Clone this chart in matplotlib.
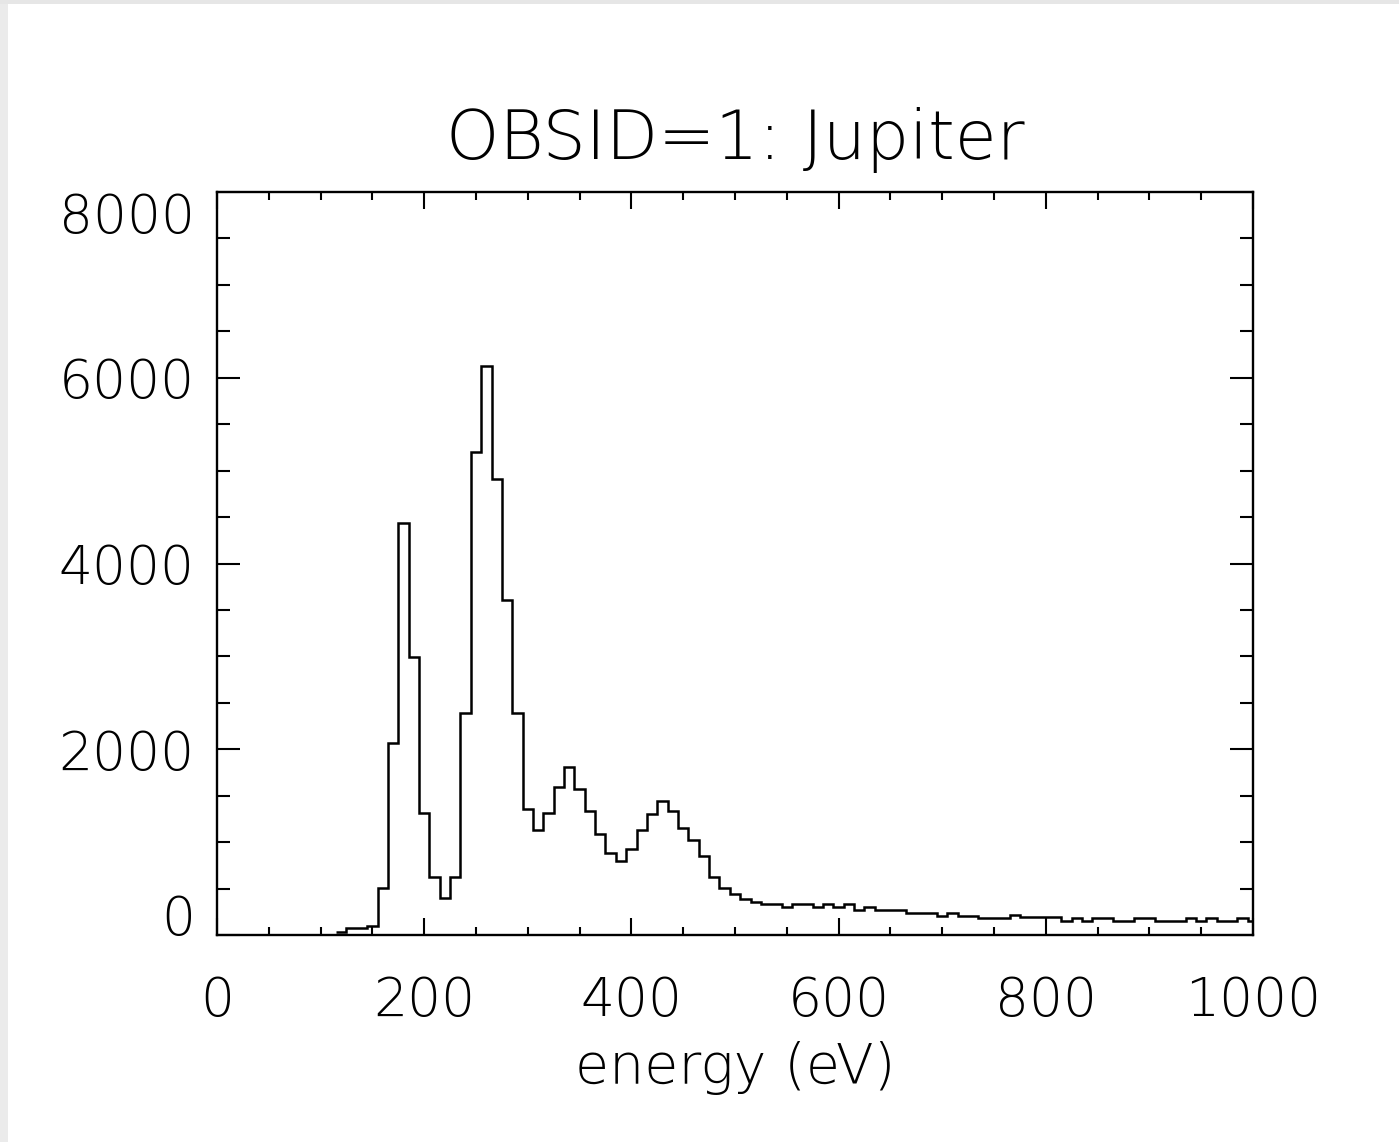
import matplotlib
matplotlib.use("Agg")
import matplotlib.pyplot as plt
from matplotlib import font_manager
from matplotlib.patches import Rectangle
from matplotlib.ticker import MultipleLocator
import numpy as np

# Energy bin centres (eV) and counts
energy = [120, 130, 140, 150, 160, 170, 180, 190, 200, 210, 220, 230, 240, 250,
          260, 270, 280, 290, 300, 310, 320, 330, 340, 350, 360, 370, 380, 390,
          400, 410, 420, 430, 440, 450, 460, 470, 480, 490, 500, 510, 520, 530,
          540, 550, 560, 570, 580, 590, 600, 610, 620, 630, 640, 650, 660, 670,
          680, 690, 700, 710, 720, 730, 740, 750, 760, 770, 780, 790, 800, 810,
          820, 830, 840, 850, 860, 870, 880, 890, 900, 910, 920, 930, 940, 950,
          960, 970, 980, 990, 1000]
counts = [30, 70, 72, 100, 510, 2070, 4440, 2990, 1310, 620, 395, 628, 2395, 5205,
          6130, 4910, 3605, 2395, 1360, 1130, 1310, 1597, 1805, 1572, 1339, 1087, 886, 800,
          923, 1130, 1303, 1446, 1339, 1152, 1023, 854, 628, 505, 445, 386, 353, 330,
          330, 301, 330, 330, 301, 337, 301, 337, 265, 301, 265, 265, 265, 240,
          240, 240, 205, 240, 205, 205, 182, 185, 187, 215, 190, 190, 190, 190,
          151, 180, 151, 183, 183, 151, 151, 180, 180, 151, 151, 151, 180, 151,
          180, 151, 151, 180, 151]
bin_width = 10
xticks = [0, 200, 400, 600, 800, 1000]
yticks = [0, 2000, 4000, 6000, 8000]
title = "OBSID=1: Jupiter"
xlabel = "energy (eV)"

# Prefer a thin, wide sans (DejaVu Sans ExtraLight) if installed
has_dv_light = any(f.name == 'DejaVu Sans' and
                   (f.weight in (200, 300, 'light', 'extra light') or
                    'ExtraLight' in f.fname)
                   for f in font_manager.fontManager.ttflist)
if has_dv_light:
    FONT = ['DejaVu Sans']
    WEIGHT = 200
    TICK_FS, TITLE_FS, LABEL_FS = 38.5, 49, 40
else:
    FONT = ['Roboto', 'DejaVu Sans']
    WEIGHT = 'light'
    TICK_FS, TITLE_FS, LABEL_FS = 40, 50, 41
plt.rcParams['font.family'] = FONT

W, H = 1399, 1142
fig = plt.figure(figsize=(W / 100, H / 100), dpi=100)
fig.patch.set_facecolor('white')
# light grey screenshot border (left and top)
fig.add_artist(Rectangle((0, 0), 8 / W, 1, transform=fig.transFigure,
                         facecolor='#ebebeb', edgecolor='none'))
fig.add_artist(Rectangle((0, 1 - 4 / H), 1, 4 / H, transform=fig.transFigure,
                         facecolor='#e6e6e6', edgecolor='none'))

left, right, top, bottom = 217, 1253, 192, 935
ax = fig.add_axes([left / W, 1 - bottom / H, (right - left) / W, (bottom - top) / H])

centers = np.array(energy, dtype=float)
edges = np.concatenate([centers - bin_width / 2, [centers[-1] + bin_width / 2]])
ax.stairs(counts, edges, baseline=None, color='black', linewidth=1.8)

ax.set_xlim(0, 1000)
ax.set_ylim(0, 8000)
for s in ax.spines.values():
    s.set_linewidth(1.7)

ax.xaxis.set_minor_locator(MultipleLocator(50))
ax.yaxis.set_minor_locator(MultipleLocator(500))
ax.set_xticks(xticks)
ax.set_yticks(yticks)
ax.set_xticklabels([str(v) for v in xticks])
ax.set_yticklabels([str(v) for v in yticks])

ax.tick_params(axis='x', which='major', direction='in', length=12.2, width=1.5,
               top=True, bottom=True, labelsize=TICK_FS, pad=29)
ax.tick_params(axis='x', which='minor', direction='in', length=5.8, width=1.5,
               top=True, bottom=True)
ax.tick_params(axis='y', which='major', direction='in', length=16.6, width=1.5,
               left=True, right=True, labelsize=TICK_FS, pad=16)
ax.tick_params(axis='y', which='minor', direction='in', length=9.4, width=1.5,
               left=True, right=True)

for lab in ax.get_xticklabels() + ax.get_yticklabels():
    lab.set_fontweight(WEIGHT)
ylabs = ax.get_yticklabels()
ylabs[0].set_va('baseline')
ylabs[-1].set_va('top')

cx = (left + right) / 2 / W
fig.text(cx, 1 - 140 / H, title, ha='center', va='center', fontsize=TITLE_FS,
         fontweight=WEIGHT)
fig.text(cx, 1 - 1068 / H, xlabel, ha='center', va='center', fontsize=LABEL_FS,
         fontweight=WEIGHT)

fig.savefig('out.png', dpi=100)
